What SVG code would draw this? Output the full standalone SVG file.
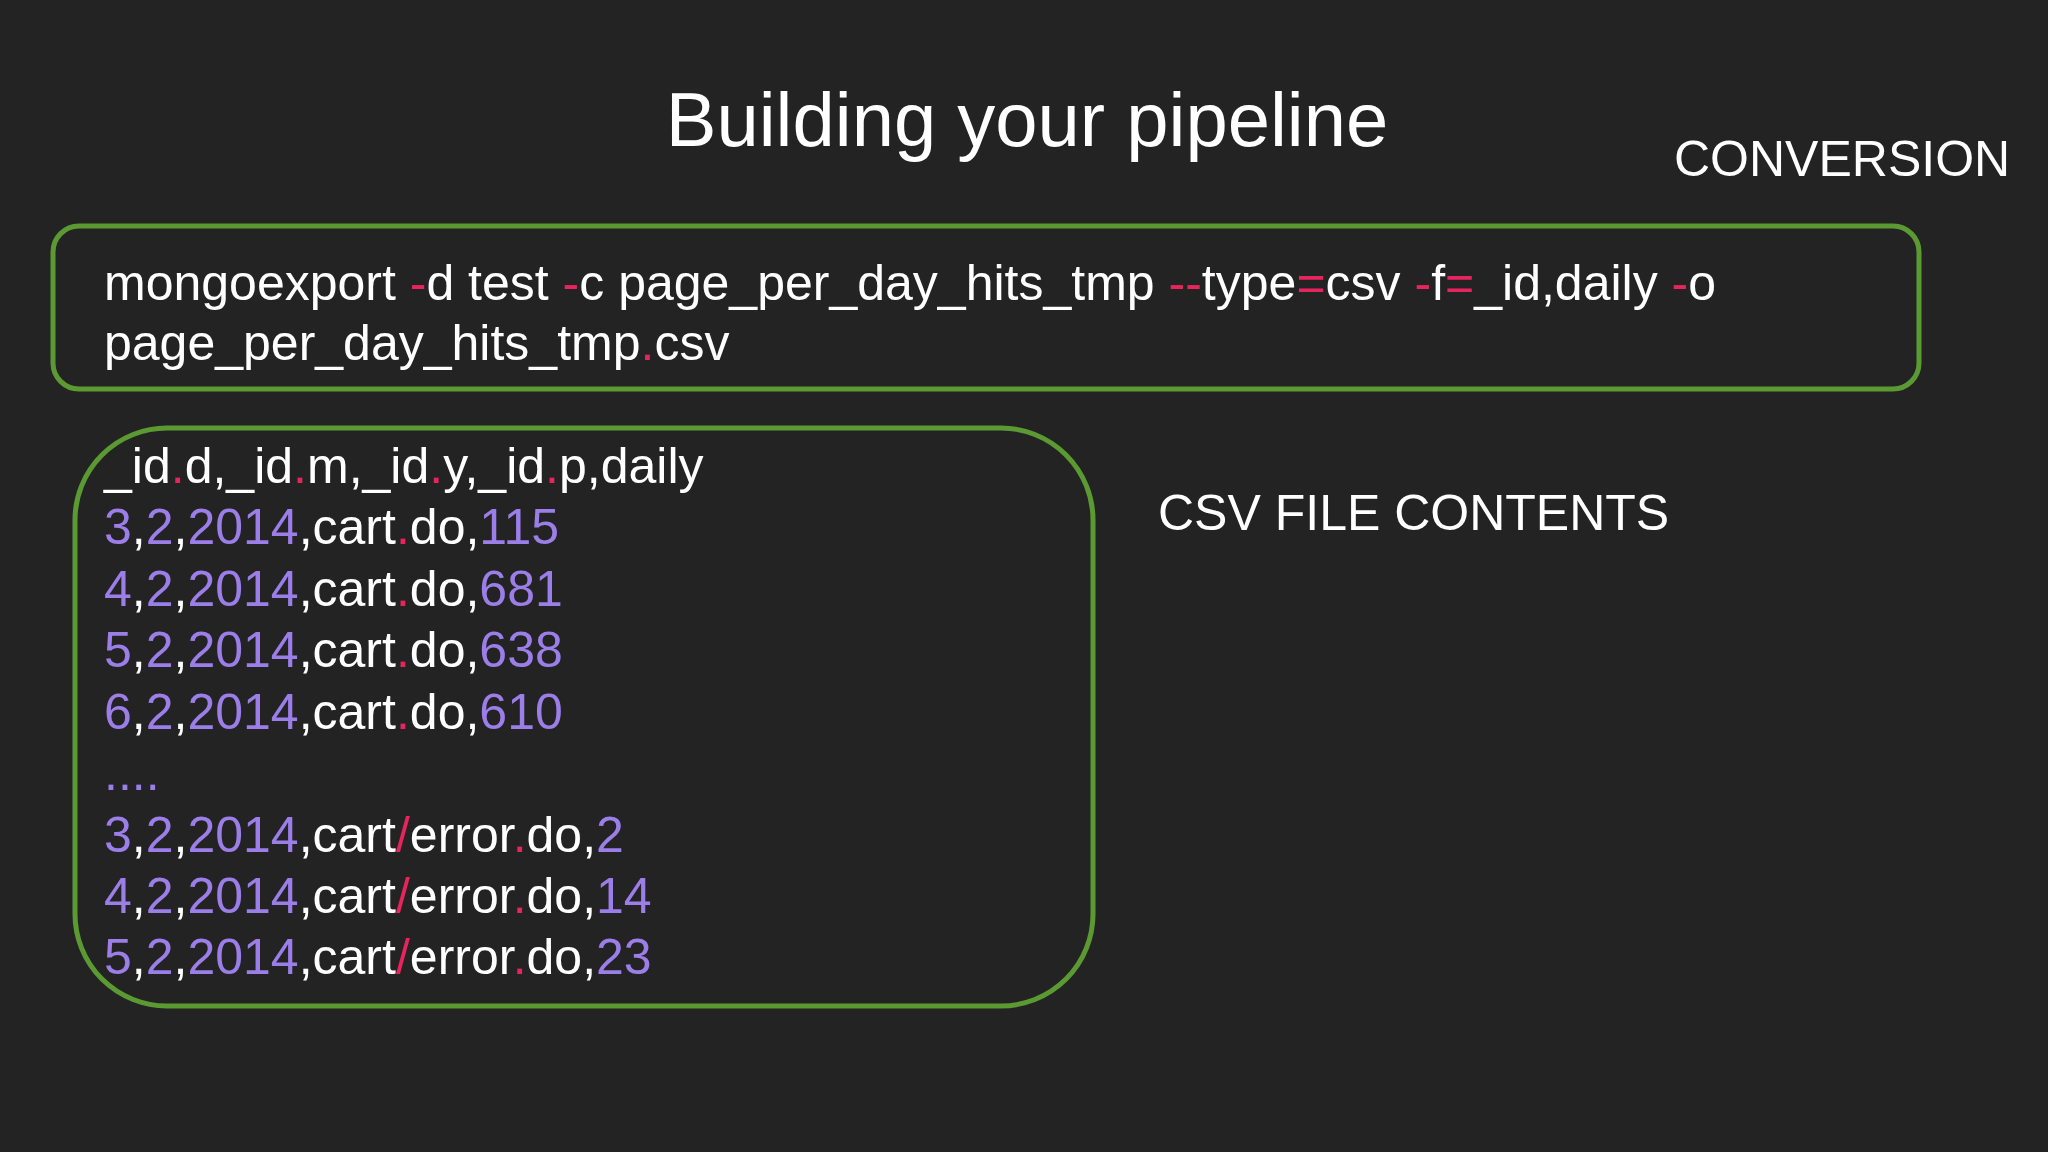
<svg xmlns="http://www.w3.org/2000/svg" width="2048" height="1152" viewBox="0 0 2048 1152">
<style>
text{font-family:"Liberation Sans",Arial,sans-serif;fill:#ffffff}
.t{font-size:50px}
.p{fill:#9b7ee8}
.r{fill:#e8245f}
.box{fill:none;stroke:#5b9a32;stroke-width:5}
</style>
<rect width="2048" height="1152" fill="#232323"/>
<text x="1027" y="146" font-size="76" text-anchor="middle">Building your pipeline</text>
<text x="1674" y="176" font-size="50">CONVERSION</text>
<g id="cmd">
<rect class="box" x="53" y="226" width="1866" height="163" rx="26"/>
<text class="t" x="104" y="300">mongoexport <tspan class="r">-</tspan>d test <tspan class="r">-</tspan>c page_per_day_hits_tmp <tspan class="r">--</tspan>type<tspan class="r">=</tspan>csv <tspan class="r">-</tspan>f<tspan class="r">=</tspan>_id,daily <tspan class="r">-</tspan>o</text>
<text class="t" x="104" y="360">page_per_day_hits_tmp<tspan class="r">.</tspan>csv</text>
</g>
<g id="csv">
<rect class="box" x="75" y="428" width="1018" height="578" rx="92"/>
<text class="t" x="104" y="483">_id<tspan class="r">.</tspan>d,_id<tspan class="r">.</tspan>m,_id<tspan class="r">.</tspan>y,_id<tspan class="r">.</tspan>p,daily</text>
<text class="t" x="104" y="544"><tspan class="p">3</tspan>,<tspan class="p">2</tspan>,<tspan class="p">2014</tspan>,cart<tspan class="r">.</tspan>do,<tspan class="p">115</tspan></text>
<text class="t" x="104" y="606"><tspan class="p">4</tspan>,<tspan class="p">2</tspan>,<tspan class="p">2014</tspan>,cart<tspan class="r">.</tspan>do,<tspan class="p">681</tspan></text>
<text class="t" x="104" y="667"><tspan class="p">5</tspan>,<tspan class="p">2</tspan>,<tspan class="p">2014</tspan>,cart<tspan class="r">.</tspan>do,<tspan class="p">638</tspan></text>
<text class="t" x="104" y="729"><tspan class="p">6</tspan>,<tspan class="p">2</tspan>,<tspan class="p">2014</tspan>,cart<tspan class="r">.</tspan>do,<tspan class="p">610</tspan></text>
<text class="t p" x="104" y="790">....</text>
<text class="t" x="104" y="852"><tspan class="p">3</tspan>,<tspan class="p">2</tspan>,<tspan class="p">2014</tspan>,cart<tspan class="r">/</tspan>error<tspan class="r">.</tspan>do,<tspan class="p">2</tspan></text>
<text class="t" x="104" y="913"><tspan class="p">4</tspan>,<tspan class="p">2</tspan>,<tspan class="p">2014</tspan>,cart<tspan class="r">/</tspan>error<tspan class="r">.</tspan>do,<tspan class="p">14</tspan></text>
<text class="t" x="104" y="974"><tspan class="p">5</tspan>,<tspan class="p">2</tspan>,<tspan class="p">2014</tspan>,cart<tspan class="r">/</tspan>error<tspan class="r">.</tspan>do,<tspan class="p">23</tspan></text>
</g>
<text x="1158" y="530" font-size="50">CSV FILE CONTENTS</text>
</svg>
